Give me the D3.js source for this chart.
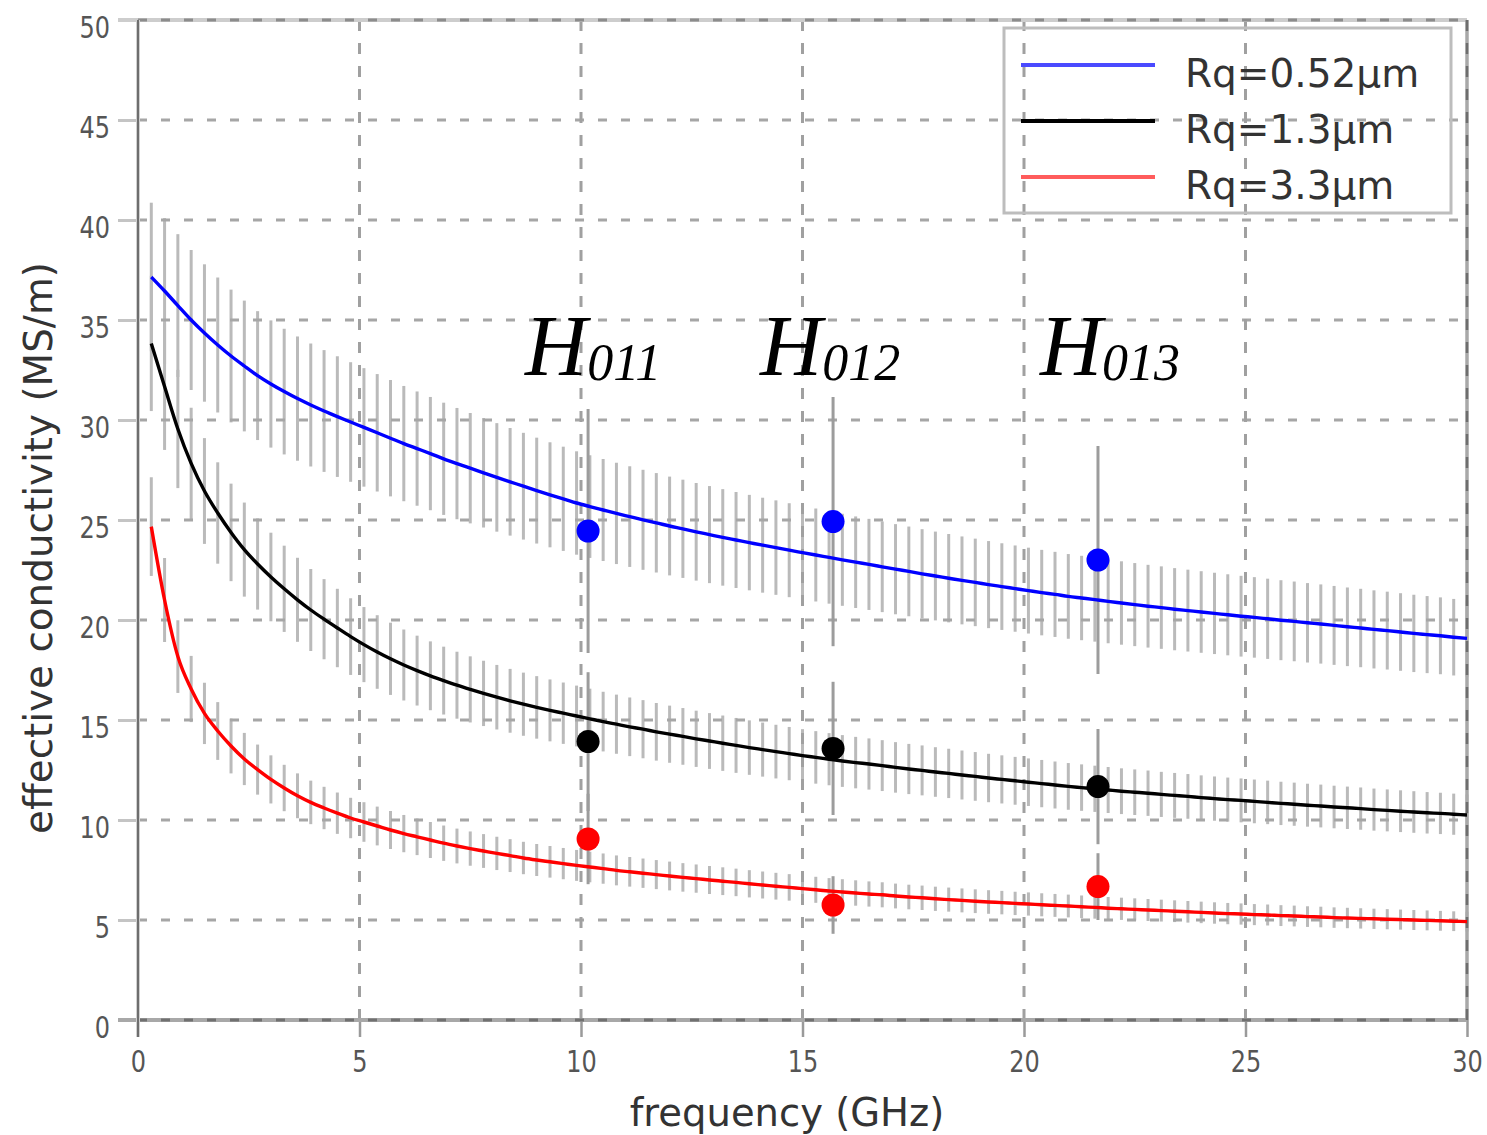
<!DOCTYPE html>
<html><head><meta charset="utf-8">
<script src="https://cdn.jsdelivr.net/npm/d3@7"></script>
<style>body{margin:0;background:#fff}</style>
</head><body><svg id="chart" width="1487" height="1135"></svg>
<script>
// ---------- data ----------
const bandFreq = [0.3,0.6,0.9,1.2,1.5,1.8,2.1,2.4,2.7,3.0,3.3,3.6,3.9,4.2,4.5,4.8,5.1,5.4,5.7,6.0,
  6.3,6.6,6.9,7.2,7.5,7.8,8.1,8.4,8.7,9.0,9.3,9.6,9.9,10.2,10.5,10.8,11.1,11.4,11.7,12.0,
  12.3,12.6,12.9,13.2,13.5,13.8,14.1,14.4,14.7,15.0,15.3,15.6,15.9,16.2,16.5,16.8,17.1,17.4,17.7,18.0,
  18.3,18.6,18.9,19.2,19.5,19.8,20.1,20.4,20.7,21.0,21.3,21.6,21.9,22.2,22.5,22.8,23.1,23.4,23.7,24.0,
  24.3,24.6,24.9,25.2,25.5,25.8,26.1,26.4,26.7,27.0,27.3,27.6,27.9,28.2,28.5,28.8,29.1,29.4,29.7,30.0];
const blueFit = [37.15,36.45,35.72,35.0,34.35,33.75,33.2,32.7,32.22,31.8,
  31.42,31.07,30.75,30.45,30.17,29.9,29.63,29.36,29.09,28.82,
  28.57,28.32,28.06,27.82,27.59,27.36,27.13,26.91,26.69,26.47,
  26.26,26.06,25.85,25.67,25.5,25.33,25.17,25.01,24.86,24.7,
  24.56,24.41,24.27,24.13,24.0,23.87,23.74,23.62,23.49,23.37,
  23.25,23.13,23.01,22.89,22.78,22.66,22.54,22.43,22.31,22.2,
  22.09,21.98,21.88,21.77,21.67,21.57,21.47,21.37,21.28,21.18,
  21.1,21.02,20.93,20.85,20.77,20.69,20.62,20.54,20.47,20.4,
  20.33,20.26,20.19,20.13,20.06,19.99,19.93,19.86,19.8,19.73,
  19.66,19.6,19.53,19.47,19.4,19.33,19.27,19.21,19.14,19.08];
const blackFit = [33.83,31.67,29.55,27.83,26.45,25.35,24.38,23.52,22.8,22.15,
  21.56,21.01,20.5,20.04,19.6,19.17,18.77,18.4,18.06,17.75,
  17.47,17.21,16.97,16.74,16.53,16.33,16.14,15.96,15.79,15.63,
  15.48,15.34,15.2,15.06,14.92,14.79,14.66,14.54,14.41,14.29,
  14.18,14.06,13.95,13.84,13.73,13.62,13.52,13.42,13.32,13.22,
  13.13,13.04,12.95,12.87,12.8,12.72,12.63,12.55,12.48,12.4,
  12.33,12.25,12.18,12.1,12.03,11.96,11.89,11.82,11.75,11.68,
  11.62,11.56,11.5,11.44,11.39,11.34,11.28,11.23,11.18,11.12,
  11.07,11.02,10.98,10.93,10.88,10.83,10.79,10.74,10.7,10.65,
  10.61,10.57,10.52,10.48,10.44,10.4,10.36,10.33,10.29,10.25];
const redFit = [24.67,21.0,18.17,16.55,15.33,14.45,13.7,13.05,12.52,12.03,
  11.6,11.21,10.88,10.6,10.34,10.1,9.9,9.7,9.5,9.32,
  9.16,9.0,8.84,8.7,8.57,8.45,8.33,8.22,8.1,8.0,
  7.91,7.82,7.73,7.65,7.57,7.48,7.41,7.34,7.27,7.2,
  7.13,7.07,7.0,6.94,6.88,6.81,6.75,6.69,6.63,6.57,
  6.51,6.45,6.4,6.35,6.3,6.26,6.2,6.15,6.11,6.06,
  6.02,5.98,5.94,5.9,5.87,5.83,5.8,5.76,5.73,5.7,
  5.66,5.63,5.59,5.56,5.53,5.5,5.47,5.44,5.41,5.38,
  5.35,5.32,5.3,5.27,5.25,5.22,5.2,5.17,5.15,5.12,
  5.1,5.08,5.06,5.04,5.02,5.0,4.98,4.96,4.94,4.92];
const bandRelErr = 0.10;

const measFreq = [10.16, 15.69, 21.67];
const measBlue = [24.45, 24.92, 23.0];
const measBlueErr = [6.1, 6.23, 5.7];
const measBlack = [13.92, 13.58, 11.67];
const measBlackErr = [3.47, 3.33, 2.88];
const measRed = [9.05, 5.75, 6.67];
const measRedErr = [2.26, 1.44, 1.67];
const modeSubs = ["011", "012", "013"];

const seriesNames = ["Rq=0.52\u03bcm", "Rq=1.3\u03bcm", "Rq=3.3\u03bcm"];
const xTicks = [0, 5, 10, 15, 20, 25, 30];
const yTicks = [0, 5, 10, 15, 20, 25, 30, 35, 40, 45, 50];

// ---------- chart ----------
const svg = d3.select("#chart");
const x = d3.scaleLinear().domain([0, 30]).range([138, 1467]);
const y = d3.scaleLinear().domain([0, 50]).range([1020, 20]);

const series = [
  {fit: blueFit, meas: measBlue, err: measBlueErr, color: "#0000ff", legend: "#4a4aff"},
  {fit: blackFit, meas: measBlack, err: measBlackErr, color: "#000000", legend: "#000000"},
  {fit: redFit, meas: measRed, err: measRedErr, color: "#ff0000", legend: "#ff5c5c"}
];

// band error bars
const gBars = svg.append("g");
series.forEach(s => {
  gBars.selectAll(null).data(bandFreq.map((f, i) => [f, s.fit[i]])).join("line")
    .attr("x1", d => x(d[0])).attr("x2", d => x(d[0]))
    .attr("y1", d => y(d[1] * (1 + bandRelErr))).attr("y2", d => y(d[1] * (1 - bandRelErr)))
    .attr("stroke", "#bababa").attr("stroke-width", 3);
});

// gridlines
const gGrid = svg.append("g").attr("fill", "none");
gGrid.selectAll(null).data(yTicks.filter(v => v > 0 && v < 50)).join("line")
  .attr("x1", x(0)).attr("x2", x(30)).attr("y1", d => y(d)).attr("y2", d => y(d))
  .attr("stroke", "#a6a6a6").attr("stroke-width", 3).attr("stroke-dasharray", "9,14");
gGrid.selectAll(null).data(xTicks.filter(v => v > 0 && v < 30)).join("line")
  .attr("x1", d => x(d)).attr("x2", d => x(d)).attr("y1", y(50)).attr("y2", y(0))
  .attr("stroke", "#a0a0a0").attr("stroke-width", 3).attr("stroke-dasharray", "11,12");

// axes
const yAxisG = svg.append("g").attr("transform", `translate(${x(0)},0)`)
  .call(d3.axisLeft(y).tickValues(yTicks).tickSize(20).tickPadding(8));
yAxisG.select(".domain").remove();
yAxisG.selectAll(".tick line").attr("stroke", "#c4c4c4").attr("stroke-width", 3);
yAxisG.selectAll(".tick text").attr("font-family", "DejaVu Sans").attr("font-size", 24)
  .attr("fill", "#555").attr("dy", null).attr("y", 13.6).attr("transform", "scale(1,1.25)");

const xAxisG = svg.append("g").attr("transform", `translate(0,${y(0)})`)
  .call(d3.axisBottom(x).tickValues(xTicks).tickSize(17).tickPadding(0));
xAxisG.select(".domain").remove();
xAxisG.selectAll(".tick line").attr("stroke", "#9a9a9a").attr("stroke-width", 2.5);
xAxisG.selectAll(".tick text").attr("font-family", "DejaVu Sans").attr("font-size", 24)
  .attr("fill", "#555").attr("dy", null).attr("y", 41.6).attr("transform", "scale(1,1.25)");

// frame
const gFrame = svg.append("g").attr("fill", "none");
gFrame.append("line").attr("x1", x(0) - 20).attr("x2", x(30)).attr("y1", y(50)).attr("y2", y(50))
  .attr("stroke", "#cdcdcd").attr("stroke-width", 4);
gFrame.append("line").attr("x1", x(0)).attr("x2", x(30)).attr("y1", y(50)).attr("y2", y(50))
  .attr("stroke", "#8c8c8c").attr("stroke-width", 3).attr("stroke-dasharray", "9,14");
gFrame.append("line").attr("x1", x(0) - 20).attr("x2", x(30)).attr("y1", y(0)).attr("y2", y(0))
  .attr("stroke", "#a8a8a8").attr("stroke-width", 4);
gFrame.append("line").attr("x1", x(0)).attr("x2", x(30)).attr("y1", y(0)).attr("y2", y(0))
  .attr("stroke", "#707070").attr("stroke-width", 3).attr("stroke-dasharray", "9,14");
gFrame.append("line").attr("x1", x(30)).attr("x2", x(30)).attr("y1", y(50)).attr("y2", y(0))
  .attr("stroke", "#a8a8a8").attr("stroke-width", 3.5);
gFrame.append("line").attr("x1", x(30)).attr("x2", x(30)).attr("y1", y(50)).attr("y2", y(0))
  .attr("stroke", "#6e6e6e").attr("stroke-width", 2.5).attr("stroke-dasharray", "11,12");
gFrame.append("line").attr("x1", x(0)).attr("x2", x(0)).attr("y1", y(50)).attr("y2", y(0) + 17)
  .attr("stroke", "#d0d0d0").attr("stroke-width", 4);
gFrame.append("line").attr("x1", x(0)).attr("x2", x(0)).attr("y1", y(50)).attr("y2", y(0) + 17)
  .attr("stroke", "#555").attr("stroke-width", 1.6);

// measurement error lines
const gMeasErr = svg.append("g");
series.forEach(s => {
  gMeasErr.selectAll(null).data(measFreq.map((f, i) => [f, s.meas[i], s.err[i]])).join("line")
    .attr("x1", d => x(d[0])).attr("x2", d => x(d[0]))
    .attr("y1", d => y(d[1] + d[2])).attr("y2", d => y(d[1] - d[2]))
    .attr("stroke", "#9c9c9c").attr("stroke-width", 3);
});

// fitted curves
const line = d3.line().x(d => x(d[0])).y(d => y(d[1])).curve(d3.curveMonotoneX);
series.forEach(s => {
  svg.append("path").datum(bandFreq.map((f, i) => [f, s.fit[i]]))
    .attr("d", line).attr("fill", "none").attr("stroke", s.color).attr("stroke-width", 3.4);
});

// measured points
series.forEach(s => {
  svg.append("g").selectAll("circle").data(measFreq.map((f, i) => [f, s.meas[i]])).join("circle")
    .attr("cx", d => x(d[0])).attr("cy", d => y(d[1])).attr("r", 11.5).attr("fill", s.color);
});

// mode labels
const labelOffsets = [-63, -73, -58];
measFreq.forEach((f, i) => {
  const t = svg.append("text").attr("x", x(f) + labelOffsets[i]).attr("y", 375)
    .attr("font-family", "Liberation Serif").attr("font-style", "italic")
    .attr("font-size", 86).attr("fill", "#000");
  t.append("tspan").text("H");
  t.append("tspan").attr("font-size", 52).attr("dy", 5).text(modeSubs[i]);
});

// axis titles
svg.append("text").attr("x", 787).attr("y", 1126).attr("text-anchor", "middle")
  .attr("font-family", "DejaVu Sans").attr("font-size", 38.5).attr("fill", "#333")
  .text("frequency (GHz)");
svg.append("text").attr("transform", "translate(52,548) rotate(-90)").attr("text-anchor", "middle")
  .attr("font-family", "DejaVu Sans").attr("font-size", 38.9).attr("fill", "#333")
  .text("effective conductivity (MS/m)");

// legend
const gLeg = svg.append("g");
gLeg.append("rect").attr("x", 1004).attr("y", 28).attr("width", 447).attr("height", 185)
  .attr("fill", "none").attr("stroke", "#bdbdbd").attr("stroke-width", 3);
const legY = [65, 121, 177];
series.forEach((s, i) => {
  gLeg.append("line").attr("x1", 1021).attr("x2", 1155).attr("y1", legY[i]).attr("y2", legY[i])
    .attr("stroke", s.legend).attr("stroke-width", 4);
  gLeg.append("text").attr("x", 1185).attr("y", legY[i] + 22)
    .attr("font-family", "DejaVu Sans").attr("font-size", 39).attr("fill", "#333")
    .text(seriesNames[i]);
});
</script>
</body></html>
